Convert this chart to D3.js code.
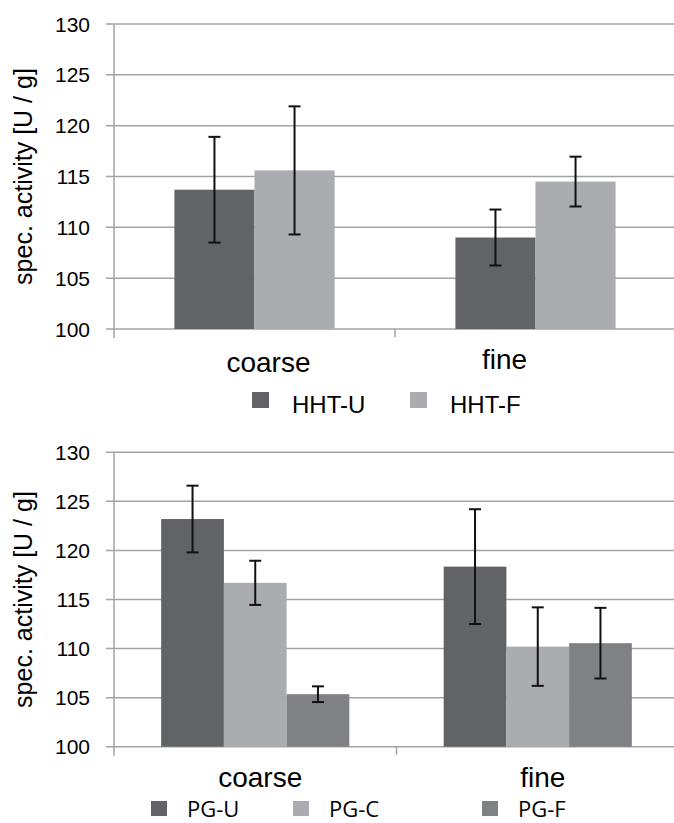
<!DOCTYPE html>
<html>
<head>
<meta charset="utf-8">
<script src="https://cdn.jsdelivr.net/npm/d3@7"></script>
<style>
  body { margin: 0; background: #fff; }
</style>
</head>
<body>
<div id="chart"></div>
<script>
"use strict";

// data
const categories = ["coarse", "fine"];
const yTicks = [100, 105, 110, 115, 120, 125, 130];

const hhtSeries = ["HHT-U", "HHT-F"];
const hhtMeans = [[113.7, 115.6], [109.0, 114.5]];   // [category][series]
const hhtErrors = [[5.2, 6.3], [2.75, 2.45]];

const pgSeries = ["PG-U", "PG-C", "PG-F"];
const pgMeans = [[123.2, 116.7, 105.35], [118.35, 110.2, 110.55]];
const pgErrors = [[3.4, 2.25, 0.8], [5.85, 4.0, 3.6]];

const hhtColors = ["#626367", "#aaacaf"];
const pgColors = ["#626367", "#aaacaf", "#808185"];

const W = 674, H = 823;
const gridColor = "#a3a3a3";
const arial = "'Liberation Sans', Arial, sans-serif";

const svg = d3.select("#chart")
  .append("svg")
  .attr("width", W)
  .attr("height", H);

function drawChart(cfg) {
  let g = svg.append("g");

  let x = d3.scaleBand()
    .domain(categories)
    .range([cfg.left, cfg.right]);

  let gap = x.bandwidth() * cfg.gapFrac;
  let xSub = d3.scaleBand()
    .domain(cfg.series)
    .range([gap, x.bandwidth() - gap]);

  let y = d3.scaleLinear()
    .domain([100, 130])
    .range([cfg.bottom, cfg.top]);

  // gridlines + left ticks
  g.selectAll(".grid")
    .data(yTicks)
    .enter()
    .append("line")
    .attr("x1", cfg.left - 8)
    .attr("x2", W)
    .attr("y1", d => y(d))
    .attr("y2", d => y(d))
    .attr("stroke", gridColor)
    .attr("stroke-width", 1.5);

  // tick labels
  g.selectAll(".tl")
    .data(yTicks)
    .enter()
    .append("text")
    .attr("x", cfg.left - 24)
    .attr("y", d => y(d) + 7.5)
    .attr("text-anchor", "end")
    .style("font-family", arial)
    .style("font-size", "21px")
    .text(d => d);

  // vertical axis line
  g.append("line")
    .attr("x1", cfg.left).attr("x2", cfg.left)
    .attr("y1", y(130)).attr("y2", y(100) + 9)
    .attr("stroke", gridColor)
    .attr("stroke-width", 1.5);

  // category boundary tick
  g.append("line")
    .attr("x1", x("fine")).attr("x2", x("fine"))
    .attr("y1", y(100)).attr("y2", y(100) + 8)
    .attr("stroke", gridColor)
    .attr("stroke-width", 1.5);

  // bars
  categories.forEach((cat, ci) => {
    cfg.series.forEach((s, si) => {
      let bx = x(cat) + xSub(s);
      let v = cfg.means[ci][si];
      g.append("rect")
        .attr("x", bx)
        .attr("y", y(v))
        .attr("width", xSub.bandwidth())
        .attr("height", y(100) - y(v))
        .attr("fill", cfg.colors[si]);
    });
  });

  // error bars
  categories.forEach((cat, ci) => {
    cfg.series.forEach((s, si) => {
      let cx = x(cat) + xSub(s) + xSub.bandwidth() / 2;
      let v = cfg.means[ci][si], e = cfg.errors[ci][si];
      let eb = g.append("g")
        .attr("stroke", "#111")
        .attr("stroke-width", 2);
      eb.append("line")
        .attr("x1", cx).attr("x2", cx)
        .attr("y1", y(v + e)).attr("y2", y(v - e));
      [v + e, v - e].forEach(val => {
        eb.append("line")
          .attr("x1", cx - 6).attr("x2", cx + 6)
          .attr("y1", y(val)).attr("y2", y(val));
      });
    });
  });

  // category labels
  categories.forEach((cat, ci) => {
    g.append("text")
      .attr("x", x(cat) + x.bandwidth() / 2 + cfg.catShift[ci])
      .attr("y", cfg.catY[ci])
      .attr("text-anchor", "middle")
      .style("font-family", arial)
      .style("font-size", "28px")
      .text(cat);
  });

  // y title
  g.append("text")
    .attr("transform", "translate(32," + ((y(130) + y(100)) / 2 + cfg.titleShift) + ")rotate(-90)")
    .attr("text-anchor", "middle")
    .style("font-family", arial)
    .style("font-size", "25px")
    .text("spec. activity [U / g]");

  // legend
  cfg.series.forEach((s, si) => {
    g.append("rect")
      .attr("x", cfg.legX[si])
      .attr("y", cfg.legY)
      .attr("width", cfg.legBox)
      .attr("height", cfg.legBox - 1)
      .attr("fill", cfg.colors[si]);
    g.append("text")
      .attr("x", cfg.legX[si] + cfg.legBox + cfg.legTextGap)
      .attr("y", cfg.legY + cfg.legBase)
      .style("font-family", cfg.legFont)
      .style("font-size", cfg.legSize)
      .text(s);
  });
}

drawChart({
  series: hhtSeries, means: hhtMeans, errors: hhtErrors, colors: hhtColors,
  left: 114, right: 676, top: 24, bottom: 329, gapFrac: 0.215,
  catShift: [14, -31], catY: [372, 369], titleShift: 0,
  legX: [252, 410], legY: 392, legBox: 17, legTextGap: 23, legBase: 21,
  legFont: arial, legSize: "24px"
});

drawChart({
  series: pgSeries, means: pgMeans, errors: pgErrors, colors: pgColors,
  left: 114, right: 679, top: 452.3, bottom: 746.7, gapFrac: 0.167,
  catShift: [5, 5], catY: [787, 787], titleShift: 0,
  legX: [151, 293, 482], legY: 801, legBox: 16, legTextGap: 20, legBase: 16,
  legFont: "'Open Sans', sans-serif", legSize: "22px"
});
</script>
</body>
</html>
